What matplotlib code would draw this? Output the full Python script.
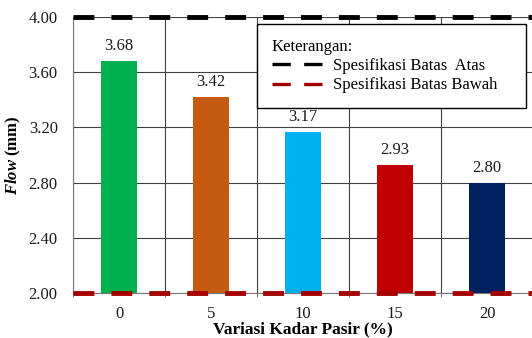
import matplotlib
matplotlib.use('Agg')
import matplotlib.pyplot as plt
from matplotlib.lines import Line2D

plt.rcParams['font.family'] = 'Liberation Serif'
plt.rcParams['mathtext.fontset'] = 'custom'
plt.rcParams['mathtext.bfit'] = 'Liberation Serif:italic:bold'
plt.rcParams['mathtext.rm'] = 'Liberation Serif'

kadar = ['0', '5', '10', '15', '20']
flow = [3.68, 3.42, 3.17, 2.93, 2.80]
warna = ['#00b050', '#c55a11', '#00b0f0', '#c00000', '#002060']
batas_atas = 4.00
batas_bawah = 2.00
yticks = [2.00, 2.40, 2.80, 3.20, 3.60, 4.00]

fig = plt.figure(figsize=(5.32, 3.38), dpi=100)
ax = fig.add_axes([73 / 532, 1 - 293 / 338, 460 / 532, 276 / 338])

x = list(range(len(kadar)))
ax.bar(x, flow, width=0.4, color=warna, zorder=2)
for xi, v in zip(x, flow):
    ax.annotate(f'{v:.2f}', (xi, v), xytext=(0, 5), textcoords='offset points',
                ha='center', va='bottom', fontsize=12, color='#1a1a1a')

# garis spesifikasi batas atas / bawah
ax.axhline(batas_atas, color='black', lw=3.5, dashes=(4.3, 3.5), zorder=4, clip_on=False)
ax.axhline(batas_bawah, color='#a50000', lw=3.5, dashes=(4.3, 3.5), zorder=4, clip_on=False)

ax.set_xlim(-0.5, len(kadar) - 0.5)
ax.set_ylim(2.0, 4.0)
ax.set_yticks(yticks)
ax.set_yticklabels([f'{t:.2f}' for t in yticks])
ax.set_xticks(x)
ax.set_xticklabels(kadar)
ax.set_xticks([i + 0.5 for i in range(-1, len(kadar))], minor=True)
ax.tick_params(axis='x', which='major', length=0, pad=9, labelsize=12, colors='#1a1a1a')
ax.tick_params(axis='x', which='minor', length=3, direction='out', color='#555555')
ax.tick_params(axis='y', length=0, pad=11, labelsize=12, colors='#1a1a1a')

ax.grid(axis='y', color='#404040', lw=0.8)
ax.grid(axis='x', which='minor', color='#404040', lw=0.8)
ax.set_axisbelow(True)

for s in ['top', 'right']:
    ax.spines[s].set_visible(False)
ax.spines['left'].set_color('#777777')
ax.spines['left'].set_linewidth(0.8)
ax.spines['bottom'].set_color('#777777')
ax.spines['bottom'].set_linewidth(0.8)

ax.set_xlabel('Variasi Kadar Pasir (%)', fontsize=12.5, fontweight='bold', labelpad=0)
ax.set_ylabel(r'$\mathbfit{Flow}$ (mm)', fontsize=12, fontweight='bold', labelpad=4)

handles = [
    Line2D([], [], color='black', lw=2.4, dashes=(5.5, 4)),
    Line2D([], [], color='#a50000', lw=2.4, dashes=(5.5, 4)),
]
leg = ax.legend(handles, ['Spesifikasi Batas  Atas', 'Spesifikasi Batas Bawah'],
                title='Keterangan:', alignment='left', loc='upper left',
                bbox_to_anchor=((257 - 73) / 460, (293 - 107) / 276, (526 - 257) / 460, (107 - 24) / 276),
                mode='expand', fancybox=False, framealpha=1, edgecolor='black',
                fontsize=12, title_fontsize=12, handlelength=3.1, handletextpad=0.6,
                labelspacing=0.2, borderpad=0.88, borderaxespad=0)
leg.get_frame().set_linewidth(1.0)
leg.set_zorder(5)

fig.savefig('out.png', dpi=100)
